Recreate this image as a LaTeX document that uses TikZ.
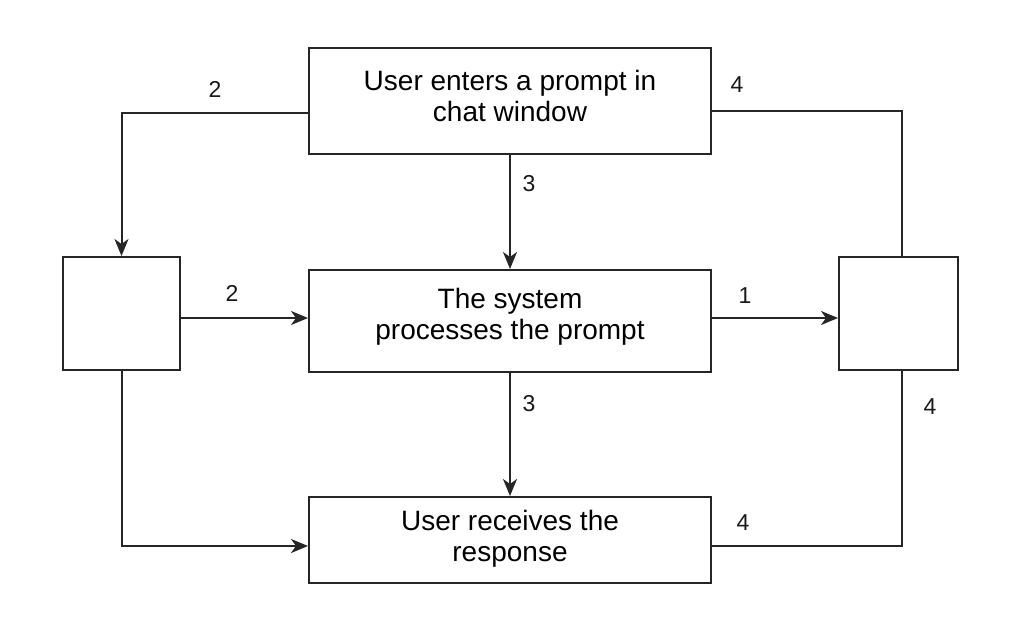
\documentclass[tikz,border=0pt]{standalone}
\usepackage{fontspec}
\setmainfont{Liberation Sans}
\usetikzlibrary{arrows.meta}
\begin{document}
\begin{tikzpicture}[x=1pt,y=-1pt,
  line width=2pt,
  conn/.style={draw=black!85, line width=2pt},
  box/.style={draw=black!85, line width=2pt, rectangle, inner sep=0pt},
  txt/.style={align=center, inner sep=0pt, font=\fontsize{28}{31.5}\selectfont, text=black},
  lbl/.style={font=\fontsize{23}{23}\selectfont, text=black!90, inner sep=0pt},
  arr/.style={conn, -{Stealth[length=17pt,width=14pt,inset=5pt]}}]
\fill[white] (0,0) rectangle (1024,626);
\useasboundingbox (0,0) rectangle (1024,626);
\node[box, minimum width=402pt, minimum height=106pt] (top) at (510,101) {};
\node[box, minimum width=402pt, minimum height=102pt] (mid) at (510,321) {};
\node[box, minimum width=402pt, minimum height=86pt] (bot) at (510,540) {};
\node[box, minimum width=117pt, minimum height=113pt] (left) at (121.5,313.5) {};
\node[box, minimum width=119pt, minimum height=113pt] (right) at (898.5,313.5) {};
\node[txt] (ttop) at (510,96) {User enters a prompt in\\chat window};
\node[txt] (tmid) at (510,317) {The system\\processes the prompt};
\node[txt] (tbot) at (510,539) {User receives the\\response};
\coordinate (rt) at (902,257);
\coordinate (rb) at (902,370);
\draw[arr] (top.west |- 0,113) -| (left.north);
\draw[arr] (top.south) -- (mid.north);
\draw[arr] (left.east |- 0,318) -- (mid.west |- 0,318);
\draw[arr] (mid.east |- 0,318) -- (right.west |- 0,318);
\draw[arr] (mid.south) -- (bot.north);
\draw[arr] (left.south) |- (bot.west |- 0,546);
\draw[conn] (rt) |- (top.east |- 0,111);
\draw[conn] (rb) |- (bot.east |- 0,546);
\node[lbl] (l1) at (215,89) {2};
\node[lbl] (l2) at (529,184) {3};
\node[lbl] (l3) at (232,293) {2};
\node[lbl] (l4) at (745,296) {1};
\node[lbl] (l5) at (529,404) {3};
\node[lbl] (l6) at (737,85) {4};
\node[lbl] (l7) at (930,407) {4};
\node[lbl] (l8) at (743,523) {4};
\end{tikzpicture}
\end{document}
